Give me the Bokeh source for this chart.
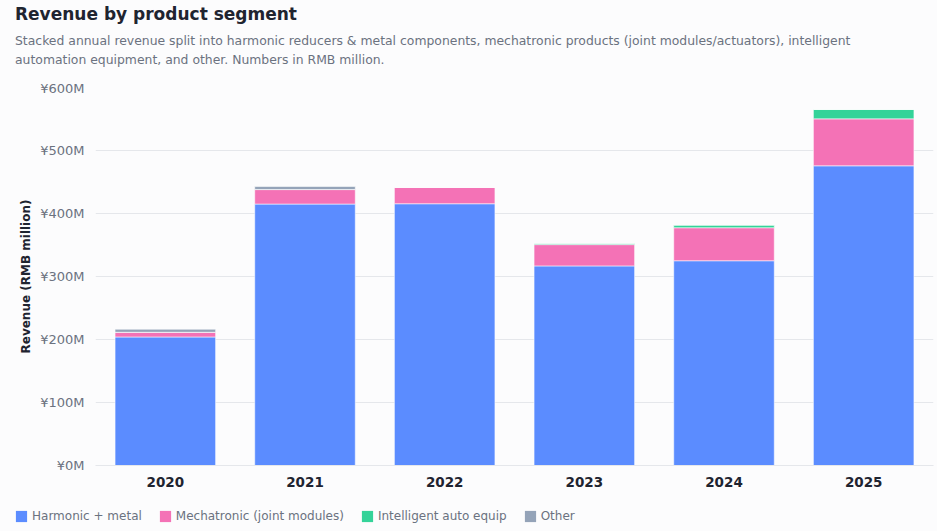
import numpy as np
from bokeh.plotting import figure
from bokeh.models import Div, PrintfTickFormatter, FactorRange, Range1d
from bokeh.layouts import column
from bokeh.embed import file_html
from bokeh.resources import INLINE

years = ["2020", "2021", "2022", "2023", "2024", "2025"]
harmonic = [204.0, 415.0, 415.5, 316.8, 325.0, 475.7]
mechatronic = [7.5, 23.0, 26.0, 33.8, 52.4, 74.5]
intelligent = [0.0, 0.0, 0.0, 2.0, 4.2, 14.9]
other = [4.8, 4.8, 0.0, 0.0, 0.0, 0.0]

segments = ["harmonic", "mechatronic", "intelligent", "other"]
labels = ["Harmonic + metal", "Mechatronic (joint modules)", "Intelligent auto equip", "Other"]
colors = ["#5b8cff", "#f472b6", "#34d399", "#94a3b8"]
y_ticks = [0, 100, 200, 300, 400, 500, 600]

BG = "#fcfcfd"
FONT = "DejaVu Sans"
W = 937

header = Div(
    text=(
        "<div style=\"font-family:'DejaVu Sans';font-weight:bold;font-size:17px;color:#1f2430;"
        "line-height:20px;padding:4px 0 0 15px;\">Revenue by product segment</div>"
        "<div style=\"font-family:'DejaVu Sans';font-size:12.4px;color:#6b7280;line-height:19px;"
        "padding:7px 40px 0 15px;\">Stacked annual revenue split into harmonic reducers &amp; metal components, "
        "mechatronic products (joint modules/actuators), intelligent automation equipment, and other. "
        "Numbers in RMB million.</div>"
    ),
    width=W, height=80, margin=(0, 0, 0, 0),
    styles={"background-color": BG},
)

data = dict(years=years, harmonic=harmonic, mechatronic=mechatronic,
            intelligent=intelligent, other=other)

p = figure(
    x_range=FactorRange(*years, range_padding=0),
    y_range=Range1d(0, 600),
    width=W, height=420,
    output_backend="svg", toolbar_location=None,
    min_border_left=95, min_border_right=4, min_border_top=7, min_border_bottom=35,
    background_fill_color=BG, border_fill_color=BG,
    margin=(0, 0, 0, 0),
)
p.outline_line_color = None

p.vbar_stack(segments, x="years", width=0.72, source=data, color=colors,
             line_color="white", line_alpha=0.55, line_width=1)

p.xgrid.grid_line_color = None
p.ygrid.grid_line_color = "#e5e7eb"
p.ygrid.ticker = y_ticks

p.yaxis.ticker = y_ticks
p.yaxis.formatter = PrintfTickFormatter(format="¥%dM")
p.yaxis.axis_line_color = None
p.yaxis.major_tick_line_color = None
p.yaxis.minor_tick_line_color = None
p.yaxis.major_tick_out = 0
p.yaxis.major_label_standoff = 11
p.yaxis.major_label_text_font = FONT
p.yaxis.major_label_text_font_size = "13px"
p.yaxis.major_label_text_color = "#6b7280"
p.yaxis.axis_label = "Revenue (RMB million)"
p.yaxis.axis_label_text_font = FONT
p.yaxis.axis_label_text_font_size = "12px"
p.yaxis.axis_label_text_font_style = "bold"
p.yaxis.axis_label_text_color = "#1f2430"
p.yaxis.axis_label_standoff = 4

p.xaxis.axis_line_color = "#e5e7eb"
p.xaxis.major_tick_line_color = None
p.xaxis.minor_tick_line_color = None
p.xaxis.major_tick_out = 0
p.xaxis.major_label_standoff = 11
p.xaxis.major_label_text_font = FONT
p.xaxis.major_label_text_font_size = "13.5px"
p.xaxis.major_label_text_font_style = "bold"
p.xaxis.major_label_text_color = "#1f2430"

# legend strip below the chart
lf = figure(
    width=W, height=31, x_range=Range1d(0, 1), y_range=Range1d(0, 1),
    output_backend="svg", toolbar_location=None,
    min_border_left=0, min_border_right=0, min_border_top=0, min_border_bottom=0,
    background_fill_color=BG, border_fill_color=BG, margin=(0, 0, 0, 0),
)
lf.frame_align = False
lf.outline_line_color = None
lf.axis.visible = False
lf.grid.visible = False
for lab, col in zip(labels, colors):
    lf.vbar(x=np.array([0.5]), top=np.array([np.nan]), width=0.5,
            fill_color=col, line_color=None, legend_label=lab)

lg = lf.legend[0]
lg.orientation = "horizontal"
lg.location = (14, 8)
lg.background_fill_alpha = 0
lg.border_line_color = None
lg.padding = 0
lg.margin = 0
lg.spacing = 16
lg.label_standoff = 4
lg.glyph_width = 14
lg.glyph_height = 14
lg.label_text_font = FONT
lg.label_text_font_size = "12px"
lg.label_text_color = "#6b7280"
lg.label_height = 12

layout = column(header, p, lf, spacing=0, margin=(0, 0, 0, 0), styles={"background-color": BG})

open("out.html", "w").write(file_html(layout, INLINE))
